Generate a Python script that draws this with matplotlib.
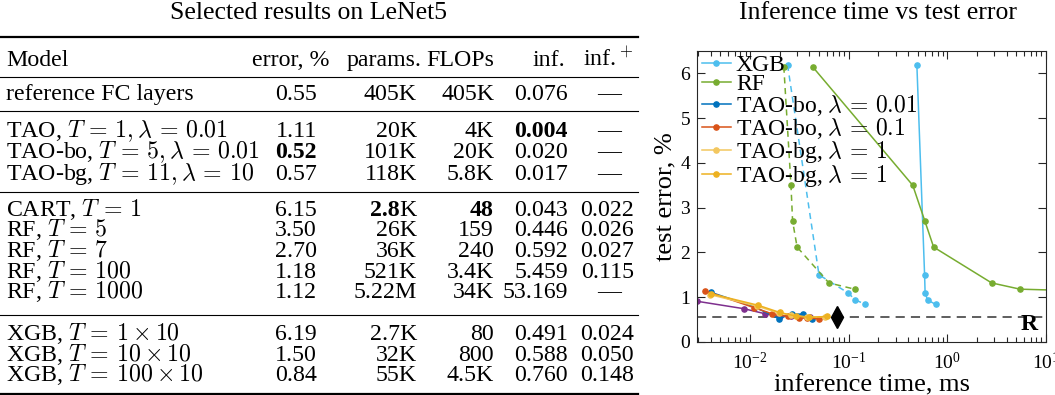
import matplotlib
matplotlib.use("Agg")
import matplotlib.pyplot as plt
import numpy as np
from matplotlib.ticker import LogLocator, NullFormatter, LogFormatterSciNotation, FixedLocator

plt.rcParams['font.family'] = ['Liberation Serif', 'DejaVu Serif']
plt.rcParams['mathtext.fontset'] = 'cm'

# ---------------- table data ----------------
models = ["reference FC layers",
          r"TAO, $T\,=\,1, \lambda\,=\,0.01$", r"TAO-bo, $T\,=\,5, \lambda\,=\,0.01$",
          r"TAO-bg, $T\,=\,11, \lambda\,=\,10$",
          r"CART, $T\,=\,1$", r"RF, $T\,=\,5$", r"RF, $T\,=\,7$", r"RF, $T\,=\,100$", r"RF, $T\,=\,1000$",
          r"XGB, $T\,=\,1\times10$", r"XGB, $T\,=\,10\times10$", r"XGB, $T\,=\,100\times10$"]
err = ["0.55", "1.11", "0.52", "0.57", "6.15", "3.50", "2.70", "1.18", "1.12", "6.19", "1.50", "0.84"]
params = ["405K", "20K", "101K", "118K", "2.8K", "26K", "36K", "521K", "5.22M", "2.7K", "32K", "55K"]
flops = ["405K", "4K", "20K", "5.8K", "48", "159", "240", "3.4K", "34K", "80", "800", "4.5K"]
inf = ["0.076", "0.004", "0.020", "0.017", "0.043", "0.446", "0.592", "5.459", "53.169", "0.491", "0.588", "0.760"]
infp = ["—", "—", "—", "—", "0.022", "0.026", "0.027", "0.115", "—", "0.024", "0.050", "0.148"]
bold_cells = {(2, "err"), (1, "inf"), (4, "params"), (4, "flops")}
headers = ["Model", "error, %", "params.", "FLOPs", "inf.", r"inf.$^+$"]

# ---------------- plot data ----------------
xgb_x = [0.491, 0.588, 0.595, 0.63, 0.760]
xgb_y = [6.19, 1.50, 1.10, 0.94, 0.84]
xgbp_x = [0.024, 0.050, 0.098, 0.117, 0.148]
xgbp_y = [6.19, 1.50, 1.10, 0.94, 0.84]
rf_x = [0.043, 0.446, 0.592, 0.726, 2.81, 5.459, 53.169]
rf_y = [6.15, 3.50, 2.70, 2.12, 1.32, 1.18, 1.12]
rfp_x = [0.022, 0.026, 0.027, 0.030, 0.063, 0.115]
rfp_y = [6.15, 3.50, 2.70, 2.12, 1.32, 1.18]
bo001_x = [0.0040, 0.0112, 0.0196, 0.0267, 0.0342, 0.0426]
bo001_y = [1.11, 0.78, 0.52, 0.63, 0.62, 0.52]
bo01_x = [0.00353, 0.0109, 0.0167, 0.0240, 0.031, 0.038, 0.0505]
bo01_y = [1.14, 0.77, 0.63, 0.57, 0.54, 0.53, 0.52]
bg1_x = [0.0039, 0.0118, 0.0195, 0.026, 0.038, 0.058]
bg1_y = [1.06, 0.80, 0.65, 0.60, 0.56, 0.56]
bg2_x = [0.0040, 0.0121, 0.0200, 0.029, 0.040, 0.060]
bg2_y = [1.08, 0.82, 0.66, 0.58, 0.55, 0.57]
pur_x = [0.0029, 0.0086, 0.0143, 0.020, 0.026, 0.031, 0.041]
pur_y = [0.91, 0.745, 0.63, 0.59, 0.57, 0.56, 0.55]
ref_x = 0.076
ref_y = 0.55

W, H = 1055, 395
fig = plt.figure(figsize=(W / 100, H / 100), dpi=100)

def fx(x):
    return x / W

def fy(y):
    return 1 - y / H

TFS = 17.2
renderer = fig.canvas.get_renderer()

def put(x, y, s, ha="right", bold=False, size=TFS):
    return fig.text(fx(x), fy(y), s, ha=ha, va="baseline", fontsize=size,
                    fontweight="bold" if bold else "normal", color="black")

def put_num(x, y, s, bold):
    # bold only the numeric part, suffix (K/M) regular
    if bold and s[-1] in "KM":
        t = put(x, y, s[-1])
        bb = t.get_window_extent(renderer)
        put(bb.x0, y, s[:-1], bold=True)
    else:
        put(x, y, s, bold=bold)

# titles
fig.text(fx(309), fy(13), "Selected results on LeNet5", ha="center", va="center", fontsize=18.5)
fig.text(fx(878), fy(13), "Inference time vs test error", ha="center", va="center", fontsize=18.5)

# rules
def rule(y, lw):
    fig.add_artist(plt.Line2D([0, fx(638)], [fy(y), fy(y)], transform=fig.transFigure,
                              color="black", lw=lw))

rule(37, 1.6)
rule(77, 0.8)
rule(111, 0.8)
rule(192, 0.8)
rule(314.5, 0.8)
rule(394, 1.6)

# header
hy = 65.7
put(6, hy, headers[0], ha="left")
put(329, hy, headers[1])
put(422, hy, headers[2])
put(494, hy, headers[3])
put(565, hy, headers[4])
put(583, hy, headers[5], ha="left")

baselines = [100, 136.7, 158.2, 179.7, 215.7, 236.4, 257.1, 277.8, 298.5, 340, 360.7, 381.4]
for i, b in enumerate(baselines):
    put(6, b, models[i], ha="left")
    put_num(317, b, err[i], (i, "err") in bold_cells)
    put_num(417, b, params[i], (i, "params") in bold_cells)
    put_num(494, b, flops[i], (i, "flops") in bold_cells)
    put_num(568, b, inf[i], (i, "inf") in bold_cells)
    if infp[i] == "—":
        fig.text(fx(609), fy(b), "—", ha="center", va="baseline", fontsize=TFS)
    else:
        put(634, b, infp[i])

# ---------------- plot ----------------
ax = fig.add_axes([fx(697), fy(342), fx(1046) - fx(697), (342 - 51) / H])
c_xgb = "#4DBEEE"
c_rf = "#77AC30"
c_bo1 = "#0072BD"
c_bo2 = "#D95319"
c_bg1 = "#F3C75F"
c_bg2 = "#EDB120"
c_pur = "#7E2F8E"
kw = dict(marker=".", markersize=7.5, lw=1.1)
dash = (0, (4, 3))

ax.plot(xgb_x, xgb_y, color=c_xgb, label="XGB", **kw)
ax.plot(rf_x, rf_y, color=c_rf, label="RF", **kw)
ax.plot(xgbp_x, xgbp_y, color=c_xgb, ls=dash, **kw)
ax.plot(rfp_x, rfp_y, color=c_rf, ls=dash, **kw)
ax.plot(pur_x, pur_y, color=c_pur, **kw)
ax.plot(bo001_x, bo001_y, color=c_bo1, label=r"TAO-bo, $\lambda\,=\,0.01$", **kw)
ax.plot(bo01_x, bo01_y, color=c_bo2, label=r"TAO-bo, $\lambda\,=\,0.1$", **kw)
ax.plot(bg1_x, bg1_y, color=c_bg1, label=r"TAO-bg, $\lambda\,=\,1$", **kw)
ax.plot(bg2_x, bg2_y, color=c_bg2, label=r"TAO-bg, $\lambda\,=\,1$", **kw)
ax.axhline(ref_y, color="#333333", lw=1.1, ls=(0, (6, 4)), zorder=1)
ax.plot([ref_x], [ref_y], marker="d", markersize=11, color="black", ls="none")
ax.text(0.975, 0.025, "R", transform=ax.transAxes, ha="right", va="bottom",
        fontsize=17, fontweight="bold")

ax.set_xscale("log")
ax.set_xlim(0.0029, 10)
ax.set_ylim(0, 6.5)
ax.yaxis.set_major_locator(FixedLocator([0, 1, 2, 3, 4, 5, 6]))
ax.xaxis.set_major_locator(LogLocator(base=10, numticks=10))
ax.xaxis.set_minor_locator(LogLocator(base=10, subs=np.arange(2, 10), numticks=20))
ax.xaxis.set_major_formatter(LogFormatterSciNotation())
ax.xaxis.set_minor_formatter(NullFormatter())
ax.tick_params(which="both", direction="in", top=True, right=True, colors="#262626",
               labelcolor="black")
ax.tick_params(which="major", length=6, width=0.8, labelsize=14)
ax.tick_params(axis="x", which="major", pad=7)
ax.tick_params(axis="y", which="major", pad=5)
ax.tick_params(which="minor", length=3.5, width=0.8)
for s in ax.spines.values():
    s.set_color("#262626")
    s.set_linewidth(0.8)
ax.set_xlabel("inference time, ms", fontsize=19, labelpad=1)
ax.set_ylabel("test error, %", fontsize=19, labelpad=3)

leg = ax.legend(loc="upper left", bbox_to_anchor=(0.0, 1.004), frameon=False, fontsize=17,
                handlelength=1.25, handletextpad=0.2, labelspacing=-0.09, borderaxespad=0.0,
                borderpad=0.2)

fig.savefig("out.png", dpi=100)
